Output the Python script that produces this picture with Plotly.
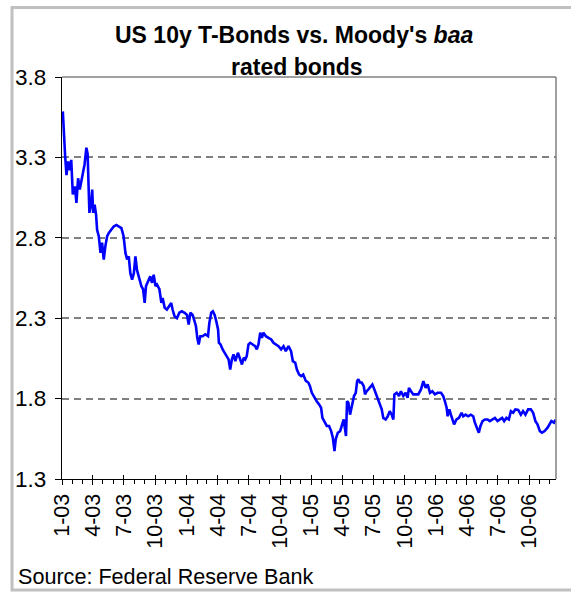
import pandas as pd
import plotly.graph_objects as go

# ---- data ----
months_since_jan_2003 = [
    0.08, 0.18, 0.30, 0.43, 0.59, 0.76, 0.89, 1.04, 1.24, 1.39, 1.55, 1.71, 1.88, 2.04,
    2.17, 2.35, 2.47, 2.57, 2.64, 2.81, 2.91, 3.00, 3.14, 3.28, 3.38, 3.54, 3.71, 3.86,
    4.02, 4.18, 4.35, 4.51, 4.76, 4.98, 5.24, 5.44, 5.72, 5.93, 6.11, 6.27, 6.43, 6.58,
    6.75, 6.92, 7.07, 7.22, 7.38, 7.64, 7.81, 7.96, 8.09, 8.28, 8.50, 8.67, 8.83, 9.00,
    9.14, 9.38, 9.57, 9.69, 9.89, 10.10, 10.33, 10.52, 10.65, 10.84, 11.07, 11.30, 11.54,
    11.81,
    12.04, 12.20, 12.36, 12.58, 12.77, 12.90, 13.03, 13.16, 13.32, 13.54, 13.80, 14.06,
    14.19, 14.37, 14.53, 14.70, 14.86, 15.03, 15.11, 15.27, 15.47, 15.66, 15.89, 16.04,
    16.20, 16.36, 16.52, 16.69, 16.94, 17.17, 17.33, 17.50, 17.65, 17.79, 17.96, 18.13,
    18.35, 18.60, 18.76, 18.92, 19.09, 19.25, 19.40, 19.63, 19.89, 20.15, 20.36, 20.59,
    20.85, 21.10, 21.33, 21.55, 21.81, 22.06, 22.23, 22.46, 22.62, 22.83, 23.03, 23.23,
    23.48, 23.72, 23.88, 24.06, 24.32, 24.53, 24.76, 24.95, 25.08, 25.28, 25.50, 25.72,
    25.92, 26.08, 26.24, 26.36, 26.56, 26.78, 26.94, 27.13, 27.26, 27.35, 27.45, 27.58,
    27.74, 27.91, 28.12, 28.29, 28.42, 28.54, 28.70, 28.86, 29.06, 29.18, 29.34, 29.51,
    29.70, 29.89, 30.08, 30.24, 30.47, 30.62, 30.79, 30.94, 31.17, 31.37, 31.56, 31.75,
    31.91, 32.01, 32.23, 32.45, 32.64, 32.87, 33.09, 33.28, 33.41, 33.61, 33.83, 34.05,
    34.31, 34.57, 34.80,
    35.02, 35.21, 35.44, 35.66, 35.91, 36.17, 36.50, 36.71, 36.87, 37.04, 37.14, 37.30,
    37.45, 37.58, 37.76, 37.99, 38.23, 38.48, 38.64, 38.87, 39.11, 39.37, 39.60, 39.76,
    39.93, 40.14, 40.30, 40.50, 40.73, 40.98, 41.20, 41.42, 41.69, 41.94, 42.16, 42.39,
    42.58, 42.80, 43.03, 43.23, 43.45, 43.66, 43.93, 44.19, 44.40, 44.63, 44.89, 45.15,
    45.37, 45.59, 45.79, 46.02, 46.23, 46.48, 46.76, 46.95, 47.13, 47.38, 47.55,
]
ratio_values = [
    3.586, 3.43, 3.31, 3.19, 3.275, 3.22, 3.285, 3.07, 3.12, 3.017, 3.17, 3.10, 3.16, 3.21,
    3.255, 3.36, 3.32, 3.10, 2.955, 3.02, 3.10, 2.955, 3.006, 2.944, 2.85, 2.81, 2.706, 2.77,
    2.665, 2.75, 2.81, 2.83, 2.85, 2.87, 2.88, 2.87, 2.86, 2.81, 2.706, 2.665, 2.685, 2.58,
    2.54, 2.58, 2.685, 2.60, 2.56, 2.50, 2.48, 2.395, 2.50, 2.53, 2.56, 2.52, 2.57, 2.50,
    2.51, 2.48, 2.395, 2.426, 2.365, 2.354, 2.375, 2.395, 2.354, 2.312, 2.30, 2.334, 2.343,
    2.334,
    2.32, 2.26, 2.334, 2.32, 2.28, 2.25, 2.178, 2.137, 2.188, 2.188, 2.20, 2.188,
    2.27, 2.334, 2.343, 2.32, 2.28, 2.23, 2.147, 2.137, 2.106, 2.085, 2.064, 2.044,
    1.98, 2.044, 2.075, 2.033, 2.085, 2.044, 2.012, 2.054, 2.044, 2.064, 2.137, 2.147,
    2.137, 2.126, 2.106, 2.137, 2.21, 2.178, 2.21, 2.188, 2.178, 2.168, 2.147, 2.137,
    2.126, 2.106, 2.126, 2.095, 2.126, 2.095, 2.033, 2.023, 1.98, 1.95, 1.94, 1.95,
    1.91, 1.90, 1.877, 1.836, 1.805, 1.784, 1.764, 1.743, 1.68, 1.66, 1.63, 1.63,
    1.598, 1.557, 1.474, 1.547, 1.588, 1.598, 1.63, 1.67, 1.609, 1.567, 1.784, 1.774,
    1.70, 1.753, 1.816, 1.836, 1.908, 1.92, 1.90, 1.90, 1.877, 1.826, 1.846, 1.857,
    1.877, 1.888, 1.857, 1.826, 1.795, 1.753, 1.733, 1.68, 1.67, 1.69, 1.722, 1.70,
    1.67, 1.826, 1.836, 1.816, 1.846, 1.816, 1.836, 1.805, 1.867, 1.846, 1.826, 1.826,
    1.826, 1.857, 1.908,
    1.867, 1.888, 1.836, 1.846, 1.826, 1.836, 1.836, 1.816, 1.784, 1.743, 1.69, 1.733,
    1.70, 1.67, 1.64, 1.67, 1.68, 1.712, 1.69, 1.70, 1.69, 1.70, 1.69, 1.65,
    1.619, 1.588, 1.63, 1.66, 1.67, 1.67, 1.66, 1.67, 1.68, 1.66, 1.67, 1.68,
    1.66, 1.68, 1.67, 1.722, 1.712, 1.733, 1.73, 1.70, 1.722, 1.70, 1.733, 1.733,
    1.712, 1.66, 1.64, 1.598, 1.588, 1.598, 1.619, 1.64, 1.66, 1.65, 1.67,
]
tick_dates = ["2003-01-01", "2003-04-01", "2003-07-01", "2003-10-01",
              "2004-01-01", "2004-04-01", "2004-07-01", "2004-10-01",
              "2005-01-01", "2005-04-01", "2005-07-01", "2005-10-01",
              "2006-01-01", "2006-04-01", "2006-07-01", "2006-10-01"]
tick_labels = ["1-03", "4-03", "7-03", "10-03", "1-04", "4-04", "7-04", "10-04",
               "1-05", "4-05", "7-05", "10-05", "1-06", "4-06", "7-06", "10-06"]
y_ticks = [1.3, 1.8, 2.3, 2.8, 3.3, 3.8]
x_range = ["2003-01-01", "2006-12-19"]
y_range = [1.3, 3.8]

base = pd.Timestamp("2003-01-01")
dates = [base + pd.to_timedelta(m * 365.25 / 12, unit="D") for m in months_since_jan_2003]

FONT = "Liberation Sans, Arial, sans-serif"

fig = go.Figure()
fig.add_trace(go.Scatter(x=dates, y=ratio_values, mode="lines",
                         line=dict(color="#0000FF", width=2.6),
                         showlegend=False, hoverinfo="skip"))
# invisible trace for overlay axis (inside halves of the crossing ticks)
fig.add_trace(go.Scatter(x=[dates[0]], y=[ratio_values[0]], xaxis="x2", mode="lines",
                         line=dict(width=0), showlegend=False, hoverinfo="skip"))

fig.update_layout(
    width=571, height=592,
    margin=dict(l=62, r=15, t=77, b=113),
    paper_bgcolor="white", plot_bgcolor="white",
    font=dict(family=FONT, size=21, color="black"),
    xaxis=dict(type="date", range=x_range, tickmode="array",
               tickvals=tick_dates, ticktext=tick_labels, tickangle=-90,
               ticks="outside", ticklen=5, tickwidth=1, tickcolor="black",
               showline=True, linecolor="black", linewidth=1.3,
               showgrid=False, zeroline=False,
               tickfont=dict(family=FONT, size=21.5),
               minor=dict(ticks="outside", ticklen=4, tickwidth=1, tickcolor="black",
                          dtick="M1", tick0="2003-01-01", showgrid=False)),
    xaxis2=dict(type="date", range=x_range, overlaying="x", anchor="y",
                tickmode="array", tickvals=tick_dates, ticktext=[""] * len(tick_dates),
                ticks="inside", ticklen=4, tickwidth=1, tickcolor="black",
                showline=False, showgrid=False, zeroline=False, side="bottom",
                showticklabels=False),
    yaxis=dict(range=y_range, tickmode="array", tickvals=y_ticks,
               ticktext=[f"{v:.1f}" for v in y_ticks],
               ticks="outside", ticklen=6, tickwidth=1, tickcolor="black",
               ticklabelstandoff=4,
               showline=True, linecolor="black", linewidth=1.3,
               showgrid=True, gridcolor="#808080", gridwidth=1.5, griddash="7px,5px",
               zeroline=False, tickfont=dict(family=FONT, size=22.5)),
)

# plot-area top/right border (grey) and outer chart frame
fig.add_shape(type="line", xref="paper", yref="paper", x0=0, x1=1, y0=1, y1=1,
              line=dict(color="#808080", width=1.5))
fig.add_shape(type="line", xref="paper", yref="paper", x0=1, x1=1, y0=0, y1=1,
              line=dict(color="#808080", width=1.5))
fig.add_shape(type="rect", xref="paper", yref="paper", x0=-0.1012, x1=1.10,
              y0=-0.276, y1=1.173, line=dict(color="#C0C0C0", width=3), layer="below")

fig.add_annotation(text="<b>US 10y T-Bonds vs. Moody's <i>baa</i></b>", xref="paper", yref="paper",
                   x=0.47, y=1.1045, xanchor="center", yanchor="middle", showarrow=False,
                   font=dict(family=FONT, size=23, color="black"))
fig.add_annotation(text="<b>rated bonds</b>", xref="paper", yref="paper",
                   x=0.475, y=1.0249, xanchor="center", yanchor="middle", showarrow=False,
                   font=dict(family=FONT, size=23, color="black"))
fig.add_annotation(text="Source: Federal Reserve Bank", xref="paper", yref="paper",
                   x=-0.0931, y=-0.2413, xanchor="left", yanchor="middle", showarrow=False,
                   font=dict(family=FONT, size=21.6, color="black"))

fig.write_html("out.html", config={"displayModeBar": False})

# remove the browser's default page margin so the figure sits at the window origin
with open("out.html", "r", encoding="utf-8") as fh:
    html = fh.read()
html = html.replace("<body>", '<body style="margin:0;padding:0;overflow:hidden">', 1)
html = html.replace("<head>", "<head><style>html,body{margin:0;padding:0;}</style>", 1)
with open("out.html", "w", encoding="utf-8") as fh:
    fh.write(html)
